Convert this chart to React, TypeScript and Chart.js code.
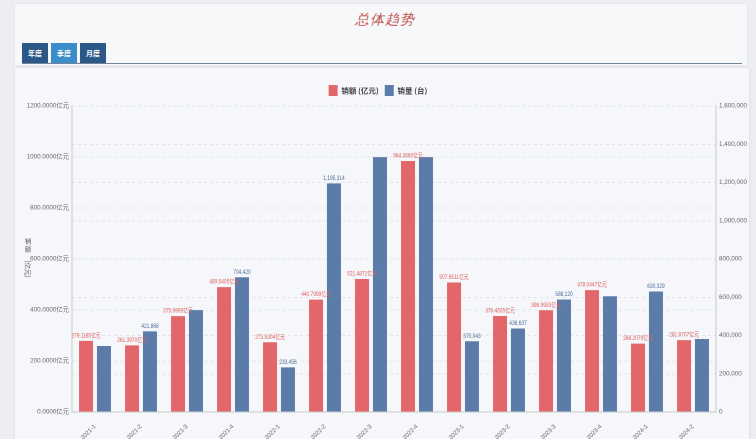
import React, { useEffect, useRef } from "react";
import { Chart, registerables } from "chart.js";

Chart.register(...registerables);

const categories = [
  "2021-1", "2021-2", "2021-3", "2021-4",
  "2022-1", "2022-2", "2022-3", "2022-4",
  "2023-1", "2023-2", "2023-3", "2023-4",
  "2024-1", "2024-2",
];

// 销额 (亿元)
const salesAmount = [
  279.1185, 261.397, 375.9993, 489.5405,
  273.5304, 440.7999, 521.4872, 984.366,
  507.6511, 376.4635, 398.9933, 478.0447,
  268.2079, 281.9707,
];

// 销量 (台)
const salesVolume = [
  345000, 421866, 533000, 704420,
  233456, 1195314, 1333000, 1333000,
  370043, 436637, 588120, 605000,
  630329, 382000,
];

// which value labels are visible in the reference (others are hidden by overlap)
const amountLabelShown = [
  true, true, true, true, true, true, true, true, true, true, true, true, true, true,
];
const volumeLabelShown = [
  false, true, false, true, true, true, false, false, true, true, true, false, true, false,
];

const leftTicks = { min: 0, max: 1200, step: 200 };
const rightTicks = { min: 0, max: 1600000, step: 200000 };

const RED = "#e3676a";
const BLUE = "#5b7ca8";
const SANS = "'Liberation Sans', 'Noto Sans CJK SC', sans-serif";

const fmtAmount = (v: number) => v.toFixed(4) + "亿元";
const fmtVolume = (v: number) => Math.round(v).toLocaleString("en-US");

const barLabelPlugin = {
  id: "barLabels",
  afterDatasetsDraw(chart: any) {
    const ctx = chart.ctx;
    chart.data.datasets.forEach((ds: any, di: number) => {
      const meta = chart.getDatasetMeta(di);
      const shown = di === 0 ? amountLabelShown : volumeLabelShown;
      const fmt = di === 0 ? fmtAmount : fmtVolume;
      meta.data.forEach((bar: any, i: number) => {
        if (!shown[i]) return;
        ctx.save();
        ctx.font = `6.5px ${SANS}`;
        ctx.textAlign = "center";
        ctx.textBaseline = "bottom";
        ctx.fillStyle = di === 0 ? "#e0605f" : "#4d6c98";
        ctx.translate(bar.x, bar.y - 2);
        ctx.scale(0.74, 1);
        ctx.fillText(fmt(ds.data[i]), 0, 0);
        ctx.restore();
      });
    });
  },
};

const axisTitlePlugin = {
  id: "leftAxisTitle",
  afterDraw(chart: any) {
    const ctx = chart.ctx;
    const area = chart.chartArea;
    const cx = 28;
    const cy = (area.top + area.bottom) / 2 - 18;
    ctx.save();
    ctx.fillStyle = "#555";
    ctx.font = `6.5px 'Noto Sans CJK SC', sans-serif`;
    ctx.textAlign = "center";
    ctx.textBaseline = "middle";
    ctx.fillText("销", cx, cy);
    ctx.fillText("额", cx, cy + 8);
    ctx.translate(cx, cy + 28);
    ctx.rotate(Math.PI / 2);
    ctx.fillText("(亿元)", 0, 0);
    ctx.restore();
  },
};

function SalesChart() {
  const ref = useRef<HTMLCanvasElement | null>(null);

  useEffect(() => {
    if (!ref.current) return;
    const chart = new Chart(ref.current, {
      type: "bar",
      data: {
        labels: categories,
        datasets: [
          {
            label: "销额 (亿元)",
            data: salesAmount,
            backgroundColor: RED,
            borderWidth: 0,
            yAxisID: "y",
            categoryPercentage: 0.78,
            barPercentage: 0.78,
          },
          {
            label: "销量 (台)",
            data: salesVolume,
            backgroundColor: BLUE,
            borderWidth: 0,
            yAxisID: "y1",
            categoryPercentage: 0.78,
            barPercentage: 0.78,
          },
        ],
      },
      options: {
        responsive: false,
        animation: false,
        devicePixelRatio: 2,
        layout: { padding: { top: 11, left: 0, right: 0, bottom: 0 } },
        plugins: {
          legend: {
            display: true,
            position: "top",
            labels: {
              boxWidth: 9,
              boxHeight: 11,
              padding: 6,
              color: "#444",
              font: { size: 7.5, family: "'Noto Sans CJK SC', sans-serif", weight: "bold" },
            },
          },
          tooltip: { enabled: false },
        },
        scales: {
          x: {
            grid: { display: false },
            border: { display: true, color: "#c8c8c8" },
            ticks: {
              minRotation: 45,
              maxRotation: 45,
              padding: 3,
              color: "#666",
              font: { size: 6, family: SANS },
            },
            afterFit: (s: any) => {
              s.height = 27;
            },
          },
          y: {
            position: "left",
            min: leftTicks.min,
            max: leftTicks.max,
            ticks: {
              stepSize: leftTicks.step,
              color: "#666",
              padding: 3,
              font: { size: 6.3, family: SANS },
              callback: (v: any) => Number(v).toFixed(4) + "亿元",
            },
            grid: { color: "#e2e4e8", drawTicks: false },
            border: { display: true, color: "#c8c8c8", dash: [3, 3] },
            afterFit: (s: any) => {
              s.width = 72;
            },
          },
          y1: {
            position: "right",
            min: rightTicks.min,
            max: rightTicks.max,
            ticks: {
              stepSize: rightTicks.step,
              color: "#666",
              padding: 3,
              font: { size: 6.3, family: SANS },
              callback: (v: any) => Number(v).toLocaleString("en-US"),
            },
            grid: { color: "#e2e4e8", drawTicks: false },
            border: { display: true, color: "#c8c8c8", dash: [3, 3] },
            afterFit: (s: any) => {
              s.width = 40;
            },
          },
        },
      } as any,
      plugins: [barLabelPlugin, axisTitlePlugin],
    });
    return () => chart.destroy();
  }, []);

  return (
    <canvas
      ref={ref}
      width={756}
      height={371}
      style={{ position: "absolute", left: 0, top: 68, width: 756, height: 371 }}
    />
  );
}

const tabs = ["年度", "季度", "月度"];

export default function App() {
  return (
    <div
      style={{
        position: "absolute",
        left: 0,
        top: 0,
        width: 756,
        height: 439,
        overflow: "hidden",
        background: "#eceef1",
        fontFamily: "'Noto Sans CJK SC', sans-serif",
      }}
    >
      <div
        style={{
          position: "absolute",
          left: 15,
          top: 4,
          width: 732,
          height: 61,
          background: "#f7f8fa",
          boxShadow: "0 0 3px rgba(0,0,0,0.06)",
        }}
      />
      <div
        style={{
          position: "absolute",
          left: 19,
          top: 10,
          width: 732,
          textAlign: "center",
          color: "#c4524c",
          fontSize: 14,
          fontFamily: "serif",
          fontStyle: "italic",
          lineHeight: "20px",
          letterSpacing: 1,
        }}
      >
        总体趋势
      </div>
      {tabs.map((t, i) => (
        <div
          key={t}
          style={{
            position: "absolute",
            left: 22 + i * 29,
            top: 43,
            width: 26,
            height: 20,
            background: i === 1 ? "#3a8dc8" : "#2c5887",
            color: "#fff",
            fontSize: 7,
            fontWeight: "bold",
            lineHeight: "20px",
            textAlign: "center",
          }}
        >
          {t}
        </div>
      ))}
      <div
        style={{
          position: "absolute",
          left: 22,
          top: 63,
          width: 720,
          height: 1,
          background: "#6f8499",
        }}
      />
      <div
        style={{
          position: "absolute",
          left: 15,
          top: 68,
          width: 734,
          height: 380,
          background: "#f5f7fa",
          boxShadow: "0 0 4px rgba(0,0,0,0.08)",
        }}
      />
      <SalesChart />
    </div>
  );
}
